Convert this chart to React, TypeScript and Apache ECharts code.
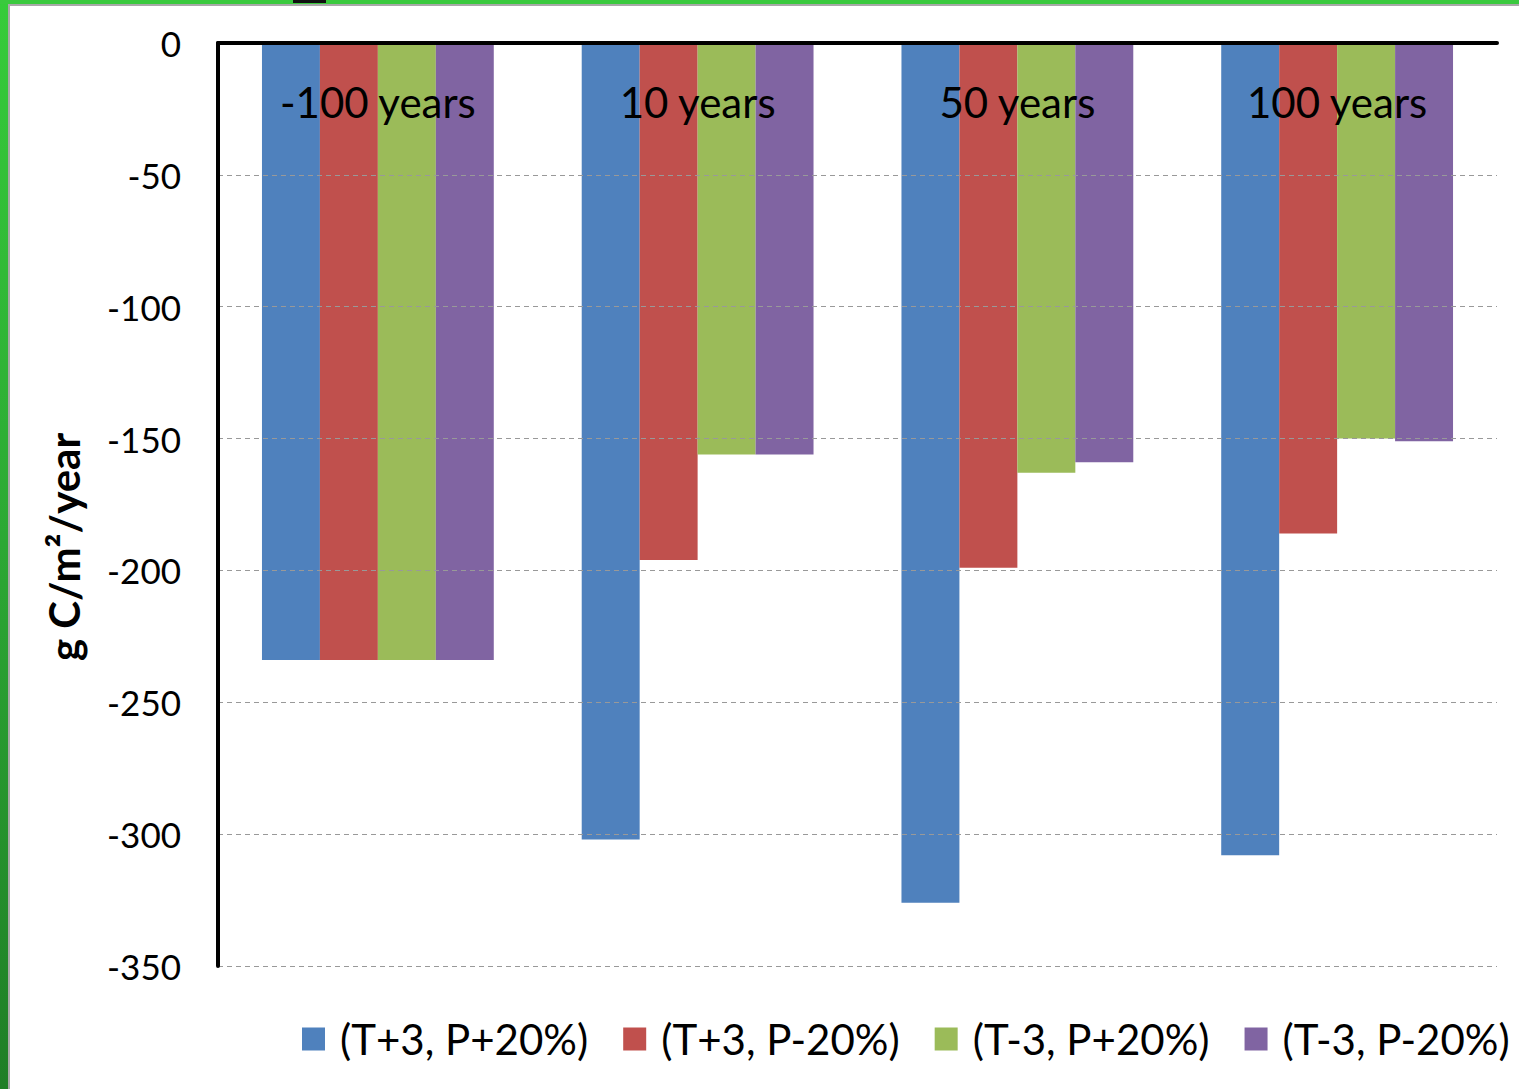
import React, { useEffect, useRef } from "react";
import * as echarts from "echarts";

// Time horizons on the category axis
const categories = ["-100 years", "10 years", "50 years", "100 years"];

// Climate scenarios (legend entries)
const scenarioNames = ["(T+3, P+20%)", "(T+3, P-20%)", "(T-3, P+20%)", "(T-3, P-20%)"];
const scenarioColors = ["#4F81BD", "#C0504D", "#9BBB59", "#8064A2"];

// Carbon flux per scenario, g C/m²/year
const warmWet = [-234, -302, -326, -308];
const warmDry = [-234, -196, -199, -186];
const coolWet = [-234, -156, -163, -150];
const coolDry = [-234, -156, -159, -151];
const scenarioValues = [warmWet, warmDry, coolWet, coolDry];

// Value axis range
const yMin = -350;
const yMax = 0;
const yStep = 50;
const yTitle = "g C/m²/year";

const FONT = "Lato, 'Open Sans', sans-serif";

export default function App() {
  const ref = useRef<HTMLDivElement>(null);

  useEffect(() => {
    if (!ref.current) return;
    const chart = echarts.init(ref.current, undefined, { renderer: "svg" });

    const series = scenarioNames.map((name, i) => ({
      name,
      type: "bar",
      data: scenarioValues[i],
      barGap: "0%",
      barCategoryGap: "27.5%",
      z: 2,
      itemStyle: { color: scenarioColors[i] },
    }));

    chart.setOption({
      animation: false,
      backgroundColor: "#ffffff",
      textStyle: { fontFamily: FONT },
      grid: { left: 218, top: 43, right: 22, bottom: 123, containLabel: false },
      xAxis: {
        type: "category",
        data: categories,
        position: "top",
        z: 10,
        axisLine: { show: true, onZero: false, lineStyle: { color: "#000", width: 4 } },
        axisTick: { show: false },
        axisLabel: {
          inside: true,
          margin: 38,
          fontSize: 42,
          color: "#000",
          fontFamily: FONT,
        },
        splitLine: { show: false },
      },
      yAxis: {
        type: "value",
        min: yMin,
        max: yMax,
        interval: yStep,
        z: 10,
        axisLine: { show: true, lineStyle: { color: "#000", width: 4 } },
        axisTick: { show: false },
        axisLabel: { fontSize: 35, color: "#000", margin: 37, fontFamily: FONT },
        splitLine: { show: true, lineStyle: { color: "#999", type: [5, 4], width: 1 } },
      },
      legend: {
        data: scenarioNames,
        left: 302,
        top: 1018,
        width: 1300,
        padding: 0,
        icon: "rect",
        itemWidth: 23,
        itemHeight: 23,
        itemGap: 35,
        textStyle: { fontSize: 42, color: "#000", fontFamily: FONT, padding: [0, 0, 0, 10] },
      },
      graphic: [
        // value axis title
        {
          type: "text",
          x: 64,
          y: 547,
          rotation: Math.PI / 2,
          style: {
            text: yTitle,
            fontSize: 42,
            fontWeight: "bold",
            fontFamily: FONT,
            fill: "#000",
            align: "center",
            verticalAlign: "middle",
          },
          silent: true,
        },
        // frame around the slide: green strips with a thin grey inner edge
        {
          type: "rect",
          shape: { x: 0, y: 0, width: 8, height: 1089 },
          style: {
            fill: new echarts.graphic.LinearGradient(0, 0, 0, 1, [
              { offset: 0, color: "#36CC3A" },
              { offset: 0.5, color: "#2CA834" },
              { offset: 1, color: "#1F7E26" },
            ]),
          },
          silent: true,
        },
        { type: "rect", shape: { x: 8, y: 5, width: 2, height: 1084 }, style: { fill: "#A8A8A8" }, silent: true },
        { type: "rect", shape: { x: 0, y: 0, width: 1519, height: 4 }, style: { fill: "#3AC93E" }, silent: true },
        { type: "rect", shape: { x: 8, y: 4, width: 1511, height: 2 }, style: { fill: "#A8A8A8" }, silent: true },
        { type: "rect", shape: { x: 293, y: 0, width: 33, height: 3 }, style: { fill: "#111" }, silent: true },
      ],
      series,
    });

    return () => chart.dispose();
  }, []);

  return (
    <div
      ref={ref}
      style={{ position: "fixed", left: 0, top: 0, width: 1519, height: 1089 }}
    />
  );
}
